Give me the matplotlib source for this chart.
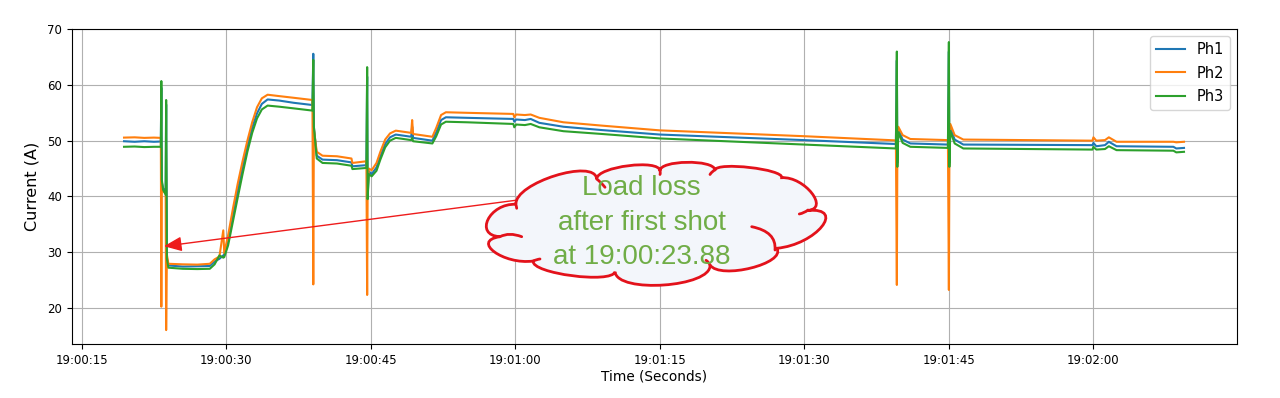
import numpy as np
import matplotlib
matplotlib.use("Agg")
import matplotlib.pyplot as plt
import matplotlib.dates as mdates
from matplotlib.path import Path
from matplotlib.patches import PathPatch

# seconds after 19:00:00 and current per phase (A)
secs = [19.4, 20.5, 21.5, 22.5, 23.22, 23.27, 23.32, 23.45, 23.72, 23.77, 23.85, 24.0,
        25.5, 27.0, 28.3, 28.8, 29.3, 29.7, 29.8, 30.2, 30.7, 31.2, 31.7, 32.2, 32.7,
        33.2, 33.7, 34.3, 35.5, 37.0, 38.95, 39.04, 39.1, 39.4, 40.0, 41.5, 43.0, 43.1,
        44.55, 44.63, 44.68, 44.8, 45.1, 45.6, 46.0, 46.5, 47.0, 47.6, 49.2, 49.3, 49.4,
        51.4, 51.8, 52.3, 52.8, 55.0, 59.8, 59.9, 60.1, 61.0, 61.6, 62.5, 65.0, 69.0,
        75.0, 90.0, 99.5, 99.6, 99.65, 99.75, 100.2, 101.0, 104.9, 105.0, 105.05, 105.15,
        105.6, 106.5, 119.9, 120.0, 120.3, 121.2, 121.6, 122.4, 128.3, 128.6, 129.4]
ph1 = [49.9, 49.8, 49.9, 49.8, 49.85, 59.5, 42.5, 41.5, 40.8, 56.5, 29.0, 27.6,
       27.4, 27.45, 27.5, 28.3, 28.8, 29.4, 29.5, 32.3, 36.8, 41.0, 45.2, 49.0, 52.3,
       54.9, 56.6, 57.4, 57.2, 56.8, 56.4, 65.6, 52.5, 47.3, 46.6, 46.5, 46.1, 45.4,
       45.6, 61.5, 40.0, 44.5, 44.0, 45.2, 47.2, 49.4, 50.6, 51.1, 50.7, 52.5, 50.5,
       50.0, 51.5, 53.7, 54.2, 54.1, 53.9, 53.4, 53.8, 53.7, 53.9, 53.2, 52.5, 51.9,
       51.1, 50.1, 49.4, 64.4, 46.0, 52.0, 50.2, 49.5, 49.3, 66.0, 46.0, 52.3,
       50.2, 49.3, 49.2, 49.6, 49.0, 49.2, 49.8, 49.0, 48.9, 48.6, 48.7]
ph2 = [50.55, 50.6, 50.5, 50.55, 50.5, 20.2, 42.0, 41.0, 40.5, 16.0, 29.5, 27.9,
       27.8, 27.75, 27.9, 28.7, 29.2, 33.9, 29.8, 33.0, 37.8, 42.3, 46.3, 50.0, 53.3,
       56.0, 57.6, 58.25, 58.0, 57.7, 57.3, 24.2, 52.0, 48.0, 47.3, 47.2, 46.8, 46.0,
       46.3, 22.3, 41.0, 45.0, 44.7, 46.0, 48.0, 50.2, 51.3, 51.8, 51.4, 53.7, 51.2,
       50.7, 52.3, 54.6, 55.1, 55.0, 54.8, 54.2, 54.7, 54.6, 54.7, 54.1, 53.3, 52.7,
       51.85, 50.8, 50.05, 24.1, 47.0, 52.5, 51.0, 50.3, 50.1, 23.2, 47.0, 53.0,
       51.0, 50.2, 50.0, 50.6, 50.0, 50.1, 50.6, 49.8, 49.8, 49.7, 49.8]
ph3 = [48.9, 48.95, 48.85, 48.9, 48.9, 60.7, 43.0, 41.2, 40.3, 57.3, 28.8, 27.2,
       27.0, 26.95, 27.0, 27.8, 29.4, 29.0, 29.1, 31.2, 35.5, 39.8, 44.0, 48.0, 51.4,
       54.0, 55.6, 56.3, 56.1, 55.8, 55.4, 64.5, 52.5, 46.8, 46.0, 45.9, 45.5, 44.9,
       45.1, 63.2, 39.5, 44.0, 43.6, 44.6, 46.6, 48.8, 50.0, 50.5, 50.1, 50.5, 49.9,
       49.5, 50.8, 52.9, 53.4, 53.3, 53.0, 52.4, 52.9, 52.8, 53.0, 52.4, 51.7, 51.2,
       50.4, 49.3, 48.6, 66.0, 45.3, 51.5, 49.6, 48.9, 48.7, 67.7, 45.3, 51.7,
       49.5, 48.6, 48.4, 48.9, 48.4, 48.5, 49.0, 48.3, 48.2, 47.9, 48.0]
labels = ["Ph1", "Ph2", "Ph3"]

base = np.datetime64("2020-01-01T19:00:00")


def to_time(s):
    return base + (np.asarray(s) * 1000).astype("timedelta64[ms]")


t = to_time(secs)

fig = plt.figure(figsize=(12.8, 3.98), dpi=100)
ax = fig.add_axes([72 / 1280, 54 / 398, 1165 / 1280, 315.3 / 398])

for vals, lab in zip([ph1, ph2, ph3], labels):
    ax.plot(t, vals, lw=1.5, label=lab)

ax.set_xlim(to_time(14.0), to_time(134.9))
ax.set_ylim(13.5, 70.1)
ax.xaxis.set_major_locator(mdates.SecondLocator(bysecond=[0, 15, 30, 45]))
ax.xaxis.set_major_formatter(mdates.DateFormatter("%H:%M:%S"))
ax.tick_params(labelsize=8.5)
ax.grid(True)
ax.set_xlabel("Time (Seconds)", fontsize=9.8, labelpad=2)
ax.set_ylabel("Current (A)", fontsize=11.5, labelpad=6)
ax.legend(loc="upper right", fontsize=10.5, labelspacing=0.6)

# red arrow pointing at the drop
ax.annotate("", xy=(to_time(23.55), 31.05), xytext=(to_time(60.5), 39.4),
            arrowprops=dict(arrowstyle="-|>,head_length=0.6,head_width=0.25",
                            color="#ee1c1c", lw=1, mutation_scale=18,
                            shrinkA=0, shrinkB=0))

# cloud callout in its own pixel-scaled axes
cax = fig.add_axes([480 / 1280, 106 / 398, 350 / 1280, 137 / 398])
cax.set_xlim(0, 350)
cax.set_ylim(0, 137)
cax.set_axis_off()
red = "#e3121b"

joints = [(36, 87.7), (116.7, 113), (180, 121), (235, 122), (301.7, 114.3),
          (327.5, 81.5), (296.7, 43.7), (230, 27), (135, 20.3), (53.3, 31), (20, 55.3)]
peaks = [(75, 116.3), (148.3, 126.3), (206.7, 129.7), (270, 124.5), (331.7, 99),
         (341.7, 65.3), (271, 24), (184, 7), (92, 16.3), (14.5, 40), (8, 72.5)]

verts = [joints[0]]
codes = [Path.MOVETO]
for i in range(len(joints)):
    p0 = np.array(joints[i])
    p1 = np.array(joints[(i + 1) % len(joints)])
    d = np.array(peaks[i]) - (p0 + p1) / 2
    verts += [p0 + 4 / 3 * d, p1 + 4 / 3 * d, p1]
    codes += [Path.CURVE4] * 3
cax.add_patch(PathPatch(Path(verts, codes), facecolor="#f3f6fb",
                        edgecolor=red, lw=2))

# small inner curls of the cloud shape (start, middle, end)
curls = [((116.7, 113), (120.7, 109.5), (125, 104.7)),
         ((235, 122), (232.3, 120.3), (230, 117.5)),
         ((180, 121), (180.3, 119.3), (180, 117.5)),
         ((328, 82), (324, 79.5), (319.3, 78)),
         ((295, 42), (290, 57), (271.7, 65.3)),
         ((230, 27), (228.3, 29.7), (226, 31.7)),
         ((53.3, 31), (56.7, 32.3), (60, 33)),
         ((20, 55.3), (30, 57.7), (41.7, 55.3)),
         ((35.5, 88.5), (36.2, 86.3), (36.7, 83.7))]
for s, m, e in curls:
    s, m, e = np.array(s), np.array(m), np.array(e)
    c = 2 * m - (s + e) / 2
    cax.add_patch(PathPatch(Path([s, c, e], [Path.MOVETO, Path.CURVE3, Path.CURVE3]),
                            facecolor="none", edgecolor=red, lw=2, capstyle="round"))

green = "#70ad47"
for txt, y in zip(["Load loss", "after first shot", "at 19:00:23.88"], [103.7, 68.7, 35.3]):
    cax.text(161.7, y, txt, color=green, fontsize=20, family="Liberation Sans",
             ha="center", va="center")

fig.savefig("out.png", dpi=100)
